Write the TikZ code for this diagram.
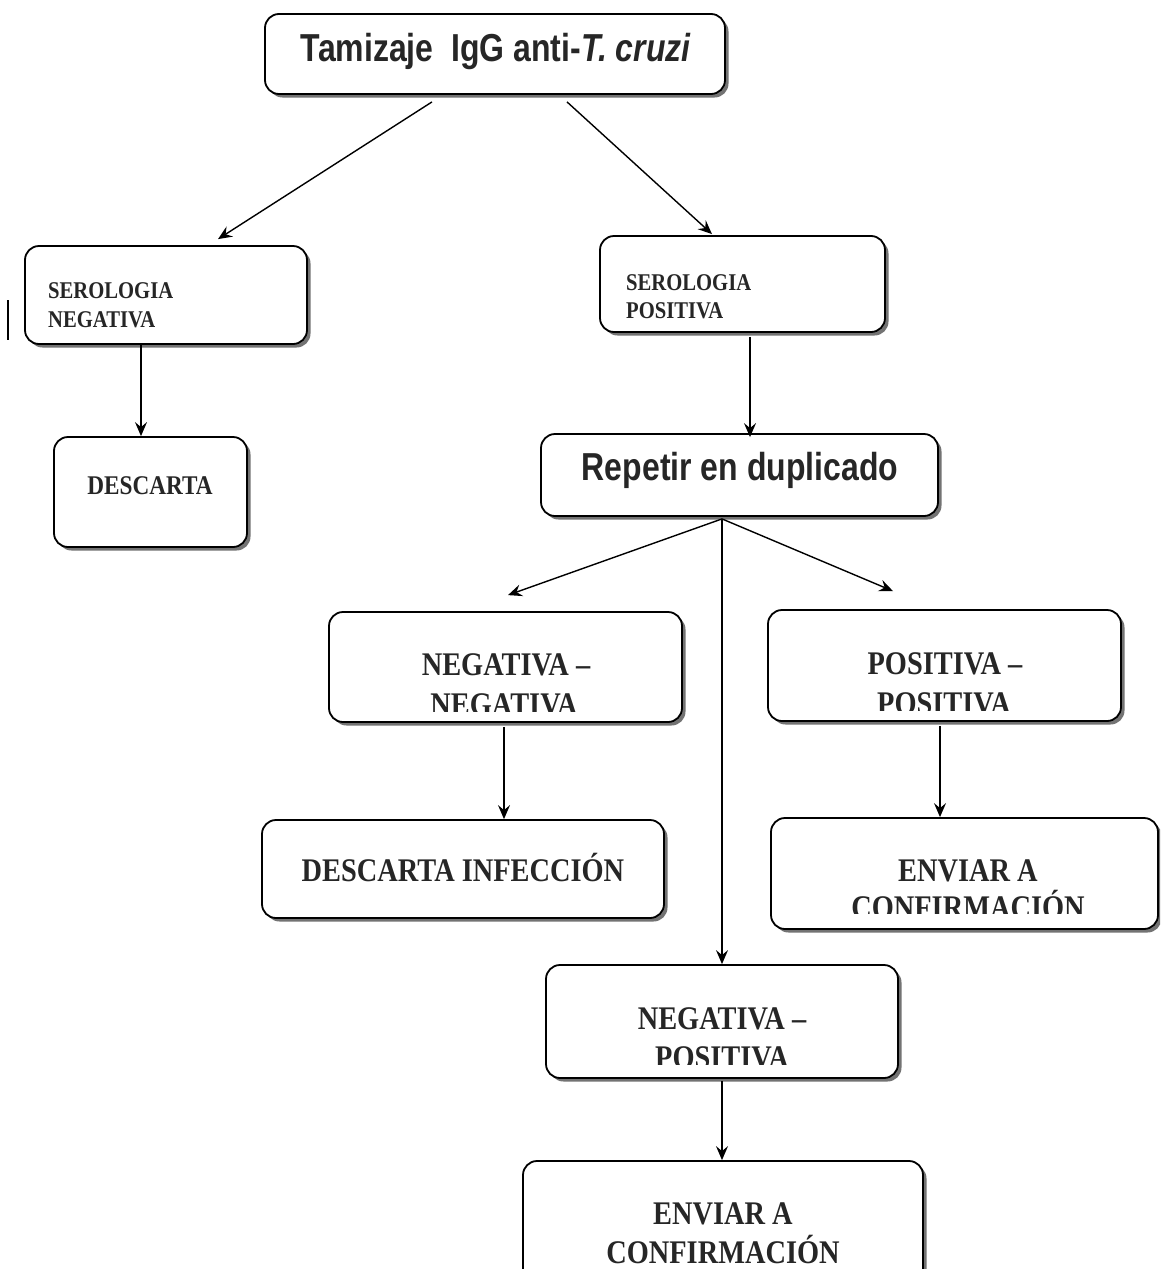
\documentclass[tikz,border=0pt]{standalone}
\usepackage{fontspec}
\setmainfont{Liberation Serif}[FakeStretch=0.86]
\newfontfamily\arialf{Liberation Sans}[FakeStretch=0.82]
\usetikzlibrary{shadows,arrows.meta}
\newcommand\mybox[5]{\node[box, minimum width={#4-#2}, minimum height={#5-#3}] (#1) at ({(#2+#4)/2},{(#3+#5)/2}) {};}
\begin{document}
\begin{tikzpicture}[x=1pt,y=-1pt,
  box/.style={draw=black, line width=1.8pt, rounded corners=14pt, fill=white,
    drop shadow={shadow xshift=3.5pt, shadow yshift=-3.5pt, fill=black!55, opacity=1}, inner sep=0pt},
  stxt/.style={font=\fontsize{24}{28}\selectfont\bfseries, inner sep=0pt, text=black!85},
  btxt/.style={font=\fontsize{33}{38}\selectfont\bfseries, inner sep=0pt, anchor=base, text=black!85},
  atxt/.style={font=\arialf\fontsize{39}{44}\selectfont\bfseries, inner sep=0pt, anchor=base, text=black!85},
  arr/.style={line width=1.4pt, -{Stealth[length=14pt, width=12pt, inset=5pt]}}]
\clip (0,0) rectangle (1160,1269);
\fill[white] (0,0) rectangle (1160,1269);

% boxes
\mybox{top}{265}{14}{725}{94}
\mybox{sn}{25}{246}{307}{344}
\mybox{sp}{600}{236}{885}{332}
\mybox{desc}{54}{437}{247}{547}
\mybox{rep}{541}{434}{938}{516}
\mybox{nn}{329}{612}{682}{722}
\mybox{pp}{768}{610}{1121}{721}
\mybox{di}{262}{820}{664}{918}
\mybox{ecr}{771}{818}{1158}{929}
\mybox{np}{546}{965}{898}{1078}
\mybox{ecb}{523}{1161}{923}{1300}

% texts
\node[atxt] (ttop) at (496,61) {Tamizaje\ \ IgG anti-\textit{T. cruzi}};
\node[stxt, anchor=base west] (sn1) at (48,298) {SEROLOGIA};
\node[stxt, anchor=base west] (sn2) at (48,327) {NEGATIVA};
\node[stxt, anchor=base west] (sp1) at (626,290) {SEROLOGIA};
\node[stxt, anchor=base west] (sp2) at (626,318) {POSITIVA};
\node[stxt, font=\fontsize{27}{30}\selectfont\bfseries, anchor=base] (desct) at (150,494) {DESCARTA};
\node[atxt] (rept) at (740,480) {Repetir en duplicado};
\node[btxt] (nn1) at (506,675) {NEGATIVA –};
\begin{scope}
  \clip (329,612) rectangle (682,711);
  \node[btxt] (nn2) at (504,715) {NEGATIVA};
\end{scope}
\node[btxt] (pp1) at (945,674) {POSITIVA –};
\begin{scope}
  \clip (768,610) rectangle (1121,710);
  \node[btxt] (pp2) at (944,714) {POSITIVA};
\end{scope}
\node[btxt] (dit) at (463,881) {DESCARTA INFECCIÓN};
\node[btxt] (ecr1) at (968,881) {ENVIAR A};
\begin{scope}
  \clip (771,818) rectangle (1158,913);
  \node[btxt] (ecr2) at (968,918) {CONFIRMACIÓN};
\end{scope}
\node[btxt] (np1) at (722,1029) {NEGATIVA –};
\begin{scope}
  \clip (546,965) rectangle (898,1064);
  \node[btxt] (np2) at (722,1068) {POSITIVA};
\end{scope}
\node[btxt] (ecb1) at (723,1224) {ENVIAR A};
\node[btxt] (ecb2) at (723,1263) {CONFIRMACIÓN};

% connectors
\coordinate (rs) at ([xshift=-17.5pt, yshift=-2pt]rep.south);
\draw[arr] ([xshift=-63pt, yshift=-7pt]top.south) -- ([xshift=52pt, yshift=6pt]sn.north);
\draw[arr] ([xshift=72pt, yshift=-7pt]top.south) -- ([xshift=-30.5pt, yshift=1pt]sp.north);
\draw[arr] ([xshift=-25pt]sn.south) -- ([xshift=-25pt]sn.south |- desc.north);
\draw[arr] ([xshift=7.5pt, yshift=-4pt]sp.south) -- ([xshift=7.5pt, yshift=-4pt]sp.south |- rep.north);
\draw[arr] (rs) -- ([xshift=2.5pt, yshift=16pt]nn.north);
\draw[arr] (rs) -- ([xshift=-51.5pt, yshift=18pt]pp.north);
\draw[arr] (rs) -- (rs |- np.north);
\draw[arr] ([xshift=-1.5pt, yshift=-4pt]nn.south) -- ([xshift=-1.5pt]nn.south |- di.north);
\draw[arr] ([xshift=-4.5pt, yshift=-4pt]pp.south) -- ([xshift=-4.5pt]pp.south |- ecr.north);
\draw[arr] ([yshift=-2pt]np.south) -- (np.south |- ecb.north);

% scan mark at left margin
\draw[line width=1.2pt] (8,300) -- (8,340);
\end{tikzpicture}
\end{document}
